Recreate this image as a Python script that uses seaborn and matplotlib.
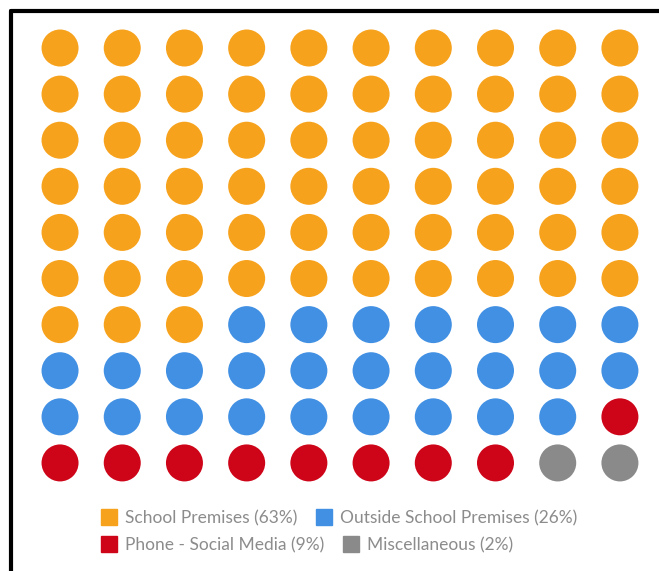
import matplotlib
matplotlib.use("Agg")
import matplotlib.pyplot as plt
from matplotlib.lines import Line2D
import seaborn as sns
import pandas as pd

categories = ["School Premises (63%)", "Outside School Premises (26%)",
              "Phone - Social Media (9%)", "Miscellaneous (2%)"]
counts = [63, 26, 9, 2]
colors = ["#F7A21C", "#4190E3", "#CE0519", "#8A8A8A"]
n_cols = 10

cells = []
for cat, c in zip(categories, counts):
    cells.extend([cat] * c)
df = pd.DataFrame({"category": cells})
df["col"] = df.index % n_cols
df["row"] = df.index // n_cols

sns.set_theme(style="white")
plt.rcParams["font.family"] = ["Lato", "DejaVu Sans"]

fig = plt.figure(figsize=(6.59, 5.71), dpi=100)
ax = fig.add_axes([0.0439, 0.1489, 0.944, 0.8074])
sns.scatterplot(data=df, x="col", y="row", hue="category",
                palette=dict(zip(categories, colors)), s=710,
                linewidth=0, legend=False, ax=ax)
ax.set_xlim(-0.5, 9.5)
ax.set_ylim(9.5, -0.5)
ax.axis("off")

handles = [Line2D([], [], marker="s", linestyle="", markersize=11.5,
                  color=col) for col in colors]

# legend flows in two rows, each left aligned
for idxs, ypos in (([0, 1], 1 - 518 / 571), ([2, 3], 1 - 545 / 571)):
    leg = fig.legend([handles[i] for i in idxs], [categories[i] for i in idxs],
                     ncol=2, loc="center left", bbox_to_anchor=(101.5 / 659, ypos),
                     frameon=False, fontsize=12.5, handlelength=0.92,
                     handletextpad=0.46, columnspacing=1.04,
                     borderpad=0, borderaxespad=0)
    for t in leg.get_texts():
        t.set_color("#8C8C8C")

# frame edges (top and left)
fig.add_artist(Line2D([11 / 659, 1.0], [1 - 11 / 571, 1 - 11 / 571],
                      color="black", linewidth=3, transform=fig.transFigure))
fig.add_artist(Line2D([11 / 659, 11 / 659], [0.0, 1 - 11 / 571],
                      color="black", linewidth=3, transform=fig.transFigure))

fig.savefig("out.png", dpi=100, facecolor="white")
